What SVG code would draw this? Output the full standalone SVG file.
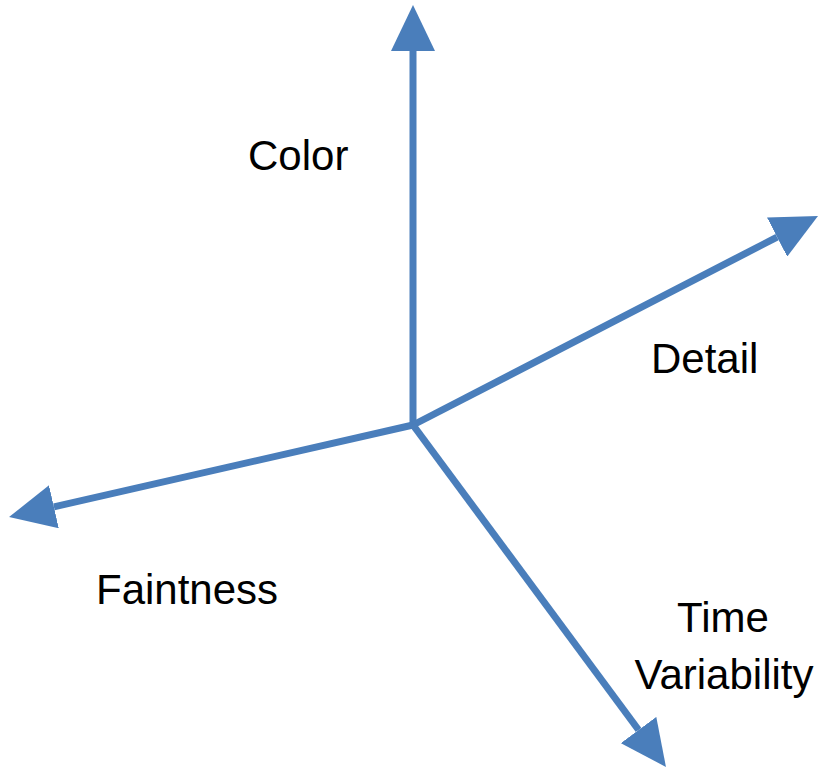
<svg xmlns="http://www.w3.org/2000/svg" width="823" height="768" viewBox="0 0 823 768">
<style>
.axis{stroke:#4a7ebb;stroke-width:7;fill:none;marker-end:url(#head)}
.lbl{font-family:"Liberation Sans",Arial,sans-serif;font-size:42px;fill:#000}
</style>
<defs>
<marker id="head" markerUnits="userSpaceOnUse" markerWidth="46" markerHeight="44" viewBox="0 0 46 44" refX="0" refY="22" orient="auto">
<path d="M0,0 L46,22 L0,44 z" fill="#4a7ebb"/>
</marker>
</defs>
<rect width="823" height="768" fill="#fff"/>
<g id="connectors">
<line class="axis" x1="413" y1="425" x2="413" y2="51"/>
<line class="axis" x1="413" y1="425" x2="777.1" y2="237.1"/>
<line class="axis" x1="413" y1="425" x2="53.9" y2="506.8"/>
<line class="axis" x1="413" y1="425" x2="638.6" y2="730"/>
</g>
<g id="color"><text class="lbl" x="248" y="170">Color</text></g>
<g id="detail"><text class="lbl" x="651" y="373">Detail</text></g>
<g id="faintness"><text class="lbl" x="96" y="604">Faintness</text></g>
<g id="time"><text class="lbl" text-anchor="middle" x="723" y="632">Time</text><text class="lbl" text-anchor="middle" x="724" y="689">Variability</text></g>
</svg>
